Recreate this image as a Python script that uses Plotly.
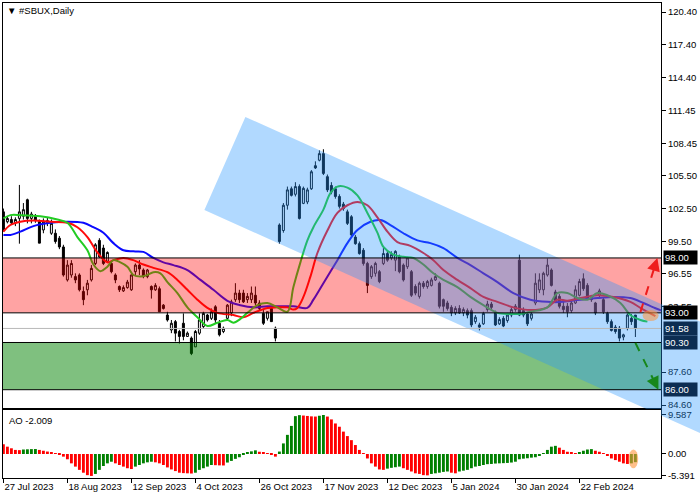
import plotly.graph_objects as go

# ---------------- data ----------------
O = [102.2, 101.3, 101.5, 101.2, 101.6, 101.8, 103.3, 101.6, 101.8, 101.3,
     100.55, 101.2, 100.25, 100.25, 99.8, 99.0, 96.0, 96.45, 96.3, 96.45,
     94.95, 95.1, 96.0, 97.5, 99.6, 98.9, 97.7, 97.5, 96.45, 95.4,
     95.0, 95.3, 95.1, 96.75, 97.35, 96.9, 96.3, 95.4, 95.1, 95.2,
     93.7, 92.8, 91.44, 92.2, 91.3, 92.05, 90.85, 90.7, 89.9, 91.15,
     91.75, 92.8, 92.5, 93.55, 92.05, 91.3, 92.5, 93.0, 94.2, 94.8,
     94.8, 94.2, 94.2, 94.6, 93.9, 92.95, 92.5, 93.4, 91.6, 101.0,
     100.5, 102.8, 104.3, 103.8, 104.5, 102.97, 103.1, 104.3, 106.4, 106.9,
     107.5, 105.4, 104.6, 104.3, 103.6, 102.9, 102.2, 101.75, 99.9, 99.3,
     98.7, 97.5, 96.3, 96.6, 96.75, 97.5, 98.4, 98.0, 97.8, 98.1,
     97.35, 97.2, 96.75, 95.4, 94.5, 95.7, 95.4, 95.5, 96.0, 95.7,
     94.2, 93.9, 93.5, 93.0, 93.4, 93.0, 93.2, 93.2, 92.2, 91.9,
     92.0, 93.3, 93.8, 93.0, 92.0, 92.5, 92.3, 92.8, 93.3, 97.8,
     93.2, 92.9, 92.5, 93.9, 95.1, 95.1, 96.45, 96.9, 94.9, 94.5,
     93.6, 93.6, 93.2, 93.9, 94.6, 96.1, 95.5, 94.4, 93.9, 94.6,
     94.2, 92.95, 92.2, 91.7, 91.6, 90.8, 91.6, 92.5, 92.8]
H = [102.5, 101.8, 101.8, 101.7, 104.65, 103.0, 103.4, 102.2, 102.0, 101.5,
     101.6, 101.7, 101.5, 100.6, 100.0, 99.2, 97.8, 97.8, 96.6, 96.6,
     95.4, 96.0, 97.35, 99.35, 99.8, 99.2, 98.6, 97.65, 96.6, 95.5,
     95.5, 96.0, 96.5, 97.5, 97.8, 97.05, 97.0, 95.5, 95.7, 95.4,
     93.8, 93.1, 92.35, 92.35, 91.45, 92.95, 91.3, 90.85, 91.44, 92.95,
     93.1, 92.9, 93.4, 93.7, 92.35, 91.75, 93.8, 94.2, 95.7, 95.1,
     95.1, 94.8, 95.4, 95.4, 94.15, 93.25, 93.1, 93.55, 91.75, 101.15,
     103.0, 104.5, 104.5, 104.9, 104.7, 104.5, 104.4, 106.0, 106.8, 107.8,
     107.9, 105.6, 104.9, 104.5, 103.8, 103.1, 102.4, 101.9, 100.1, 99.5,
     98.9, 97.65, 97.35, 97.65, 96.9, 98.9, 98.7, 98.6, 98.7, 98.3,
     97.5, 98.1, 96.9, 95.6, 95.85, 95.9, 96.0, 96.2, 96.6, 95.85,
     94.3, 94.1, 93.7, 93.6, 93.7, 93.5, 93.4, 93.4, 92.8, 92.1,
     93.1, 94.1, 94.0, 93.2, 92.6, 92.7, 93.0, 93.5, 93.8, 98.3,
     93.5, 93.1, 93.1, 96.6, 96.6, 96.75, 97.95, 97.05, 95.1, 94.7,
     94.0, 93.9, 94.1, 95.5, 96.1, 96.6, 95.7, 94.5, 94.0, 95.2,
     94.4, 93.1, 92.4, 91.9, 91.8, 91.1, 92.95, 92.9, 92.8]
L = [100.4, 101.15, 101.0, 100.9, 99.3, 101.5, 101.15, 101.15, 101.2, 99.35,
     100.25, 100.9, 100.1, 99.3, 98.8, 96.3, 95.85, 96.2, 95.7, 94.95,
     93.7, 94.6, 95.85, 97.35, 98.0, 97.35, 97.6, 96.6, 95.7, 94.9,
     94.9, 95.2, 95.0, 96.45, 96.45, 96.15, 96.15, 94.3, 95.0, 93.1,
     93.3, 92.2, 91.15, 90.4, 90.2, 90.5, 90.8, 89.15, 89.9, 91.0,
     91.6, 92.2, 92.35, 92.05, 90.85, 91.15, 92.3, 92.7, 94.0, 93.9,
     93.9, 93.9, 93.9, 93.7, 93.25, 91.9, 92.3, 92.2, 90.4, 99.3,
     100.3, 102.4, 103.6, 103.6, 101.5, 102.9, 102.9, 104.2, 106.1, 106.8,
     105.55, 104.0, 103.8, 103.4, 102.5, 102.3, 101.0, 99.9, 99.2, 98.3,
     97.3, 94.8, 96.1, 96.3, 95.7, 97.35, 97.65, 97.8, 96.8, 96.6,
     95.85, 97.0, 94.45, 94.6, 94.3, 95.2, 95.2, 95.4, 95.9, 93.4,
     93.1, 93.2, 92.7, 92.8, 92.9, 92.7, 92.5, 91.7, 92.0, 91.4,
     91.9, 93.1, 93.3, 91.8, 91.9, 91.7, 92.1, 92.6, 93.1, 92.7,
     92.6, 91.8, 92.3, 93.7, 94.8, 94.6, 96.3, 95.4, 93.9, 93.4,
     93.0, 92.6, 93.0, 93.8, 94.5, 95.0, 94.2, 94.0, 92.8, 94.4,
     92.9, 92.0, 91.3, 91.1, 90.4, 90.5, 91.4, 91.9, 90.8]
C = [100.6, 101.6, 101.2, 101.5, 102.2, 102.4, 101.6, 102.0, 101.4, 99.35,
     101.3, 101.4, 101.15, 99.5, 99.0, 96.45, 97.35, 97.5, 96.0, 95.1,
     94.2, 95.7, 97.05, 99.2, 98.1, 97.5, 98.5, 96.75, 96.0, 95.1,
     95.3, 95.8, 96.45, 97.35, 97.0, 96.3, 96.9, 95.1, 95.5, 93.1,
     93.4, 92.35, 92.05, 91.15, 90.85, 90.85, 91.15, 89.3, 91.3, 92.35,
     92.95, 92.35, 93.1, 92.35, 91.0, 91.6, 93.7, 94.0, 94.8, 94.2,
     94.0, 94.5, 94.8, 93.9, 93.4, 92.05, 93.1, 92.2, 90.7, 99.5,
     102.8, 104.2, 103.7, 104.5, 101.6, 104.34, 104.2, 105.85, 106.2, 107.5,
     105.7, 104.2, 104.0, 103.6, 102.7, 102.5, 101.15, 100.1, 99.3, 98.4,
     97.5, 95.5, 97.2, 97.5, 95.85, 98.4, 97.8, 98.3, 98.6, 96.75,
     96.0, 98.0, 94.6, 94.8, 95.7, 95.4, 95.85, 96.0, 96.3, 93.6,
     93.6, 93.4, 93.0, 93.4, 93.0, 93.3, 92.8, 91.9, 92.6, 91.7,
     92.95, 93.8, 93.5, 91.9, 92.4, 91.8, 92.8, 93.3, 93.6, 92.8,
     92.8, 92.0, 92.9, 95.7, 96.0, 96.6, 97.35, 95.5, 94.0, 93.6,
     93.3, 93.1, 93.9, 95.1, 95.85, 95.2, 94.3, 94.2, 93.0, 95.0,
     93.1, 92.2, 91.4, 91.3, 90.7, 91.0, 92.8, 92.2, 91.58]

# Alligator lines (knots at bar positions)
jaw_x = [0, 1.75, 4.25, 7.5, 11.75, 16, 20, 22.5, 25, 27.5, 30, 32.5, 35, 37.5, 40, 42.5, 46, 49.25,
         52.5, 56, 59.25, 62.5, 66, 69.25, 72.5, 76, 77.5, 80, 83.5, 86, 88.5, 91.75, 94.25, 96.75,
         100, 103.5, 106.75, 110, 113.5, 116.75, 120, 123.5, 127.5, 131.75, 136, 140, 144.25, 148.5,
         152.5, 156.75, 160, 162.5, 164.25, 166]
jaw_y = [100.1, 100.1, 100.4, 100.9, 101.2, 101.3, 101.2, 100.8, 100.3, 99.35, 98.7, 98.6, 98.55, 98.0,
         97.6, 97.35, 96.9, 96.0, 95.1, 94.1, 93.7, 93.5, 93.6, 93.6, 93.6, 93.45, 94.2, 95.7, 97.8,
         99.35, 100.55, 101.3, 101.45, 101.0, 100.25, 99.6, 99.35, 98.9, 98.0, 97.35, 96.6, 95.8, 94.8,
         94.2, 94.0, 94.0, 94.2, 94.35, 94.45, 94.35, 93.9, 93.5, 93.25, 93.1]
teeth_x = [0, 1.75, 4.25, 7.5, 11.75, 16, 18.5, 21, 23.5, 26, 27.5, 30, 32.5, 35, 37.5, 41, 43.5, 46,
           48.5, 51, 53.5, 57.5, 60, 62.5, 66, 68.5, 71, 72.5, 73.5, 75, 76.75, 78.5, 81, 83.5, 86,
           88.5, 91, 93.5, 96, 98.5, 101.75, 105, 107.5, 110, 113.5, 116.75, 120, 123.5, 127.5,
           131.75, 136, 138.5, 141, 144.25, 148.5, 152.5, 156.75, 159.25, 161, 163]
teeth_y = [100.4, 101.0, 101.3, 101.4, 101.3, 101.2, 100.8, 99.9, 98.5, 97.6, 97.8, 98.0, 97.8, 97.4,
           97.1, 96.7, 96.0, 95.1, 94.2, 93.45, 93.0, 92.8, 92.6, 93.0, 93.45, 93.5, 93.5, 93.3,
           93.45, 94.45, 96.3, 98.45, 100.5, 102.1, 102.8, 103.1, 102.8, 101.7, 100.4, 99.45, 99.1,
           98.45, 97.8, 96.9, 96.0, 95.25, 94.45, 94.0, 93.5, 93.25, 93.5, 94.2, 94.1, 94.35, 94.6,
           94.45, 94.0, 93.45, 93.1, 92.7]
lips_x = [0, 1.75, 4.25, 9.25, 13.5, 16, 18.5, 21, 22.5, 24.25, 26, 27.5, 29.25, 31, 32.5, 34.25, 36,
          37.5, 39.25, 41, 43.5, 46, 48.5, 51, 53.5, 56, 57.5, 59.25, 61, 63.5, 66, 68.5, 71, 72.5,
          74.25, 76, 77.5, 80, 81.75, 83.5, 86, 88.5, 91, 93.5, 95, 97.5, 100, 102.5, 105, 107.5,
          110, 113.5, 116.75, 120, 123.5, 126.75, 129.25, 131.75, 136, 138.5, 141, 143.5, 146,
          148.5, 151, 154.25, 156.75, 159.25, 161]
lips_y = [101.6, 101.9, 101.9, 101.8, 101.5, 101.2, 99.9, 98.7, 97.4, 96.8, 97.2, 97.8, 97.6, 97.2,
          96.45, 96.3, 96.45, 96.7, 96.6, 95.8, 94.8, 93.5, 92.6, 91.8, 92.1, 92.35, 92.1, 92.45,
          93.0, 93.7, 93.9, 93.5, 93.1, 95.35, 97.6, 99.6, 100.8, 102.4, 103.9, 104.5, 104.4, 103.7,
          102.1, 100.3, 99.0, 98.3, 98.1, 98.0, 97.4, 96.6, 96.0, 95.35, 94.45, 93.7, 93.0, 92.9,
          92.9, 93.1, 93.5, 94.8, 94.8, 94.35, 94.2, 94.8, 94.6, 93.9, 92.8, 92.35, 92.2]

# Awesome Oscillator histogram
AO = [2.4, 1.8, 1.4, 1.0, 0.95, 1.1, 1.15, 1.2, 1.22, 1.0,
      0.8, 0.6, 0.3, 0.05, -0.25, -0.65, -1.3, -2.3, -3.1, -3.9,
      -4.6, -5.2, -5.391, -4.9, -3.9, -2.95, -2.3, -1.9, -2.3, -2.7,
      -3.1, -3.5, -3.7, -3.1, -2.7, -2.3, -2.05, -1.9, -2.05, -2.3,
      -2.7, -3.3, -3.8, -4.2, -4.6, -4.7, -4.75, -4.8, -4.6, -3.9,
      -3.5, -3.1, -2.7, -2.75, -2.8, -2.82, -2.1, -1.7, -1.2, -0.8,
      -0.25, 0.33, 0.65, 0.9, 0.55, 0.4, 0.15, -0.1, -0.65, 0.6,
      2.6, 4.7, 6.9, 9.3, 9.55, 9.45, 9.35, 9.25, 9.2, 9.4,
      9.587, 9.2, 8.5, 7.5, 6.7, 5.5, 4.4, 3.4, 2.2, 1.0,
      0.15, -1.1, -2.3, -3.1, -3.8, -3.9, -3.6, -3.4, -3.25, -3.1,
      -3.5, -3.9, -4.3, -4.75, -4.9, -5.2, -5.25, -4.9, -4.75, -4.6,
      -4.4, -4.3, -4.6, -4.75, -4.3, -4.1, -3.9, -3.5, -3.1, -2.95,
      -2.7, -2.5, -2.45, -2.35, -2.3, -2.25, -2.2, -2.1, -1.9, -1.3,
      -1.15, -1.05, -0.9, -0.8, -0.5, 0.15, 1.0, 1.8, 2.0, 1.55,
      1.0, 0.55, 0.3, 0.15, 0.33, 0.8, 1.1, 1.2, 0.8, 0.55,
      0.15, -0.5, -1.1, -1.5, -1.9, -2.3, -2.45, -2.3, -2.009]

date_ticks = [0, 16, 32, 48, 64, 80, 96, 112, 128, 144]
date_labels = ["27 Jul 2023", "18 Aug 2023", "12 Sep 2023", "4 Oct 2023", "26 Oct 2023",
               "17 Nov 2023", "12 Dec 2023", "5 Jan 2024", "30 Jan 2024", "22 Feb 2024"]
price_ticks = [120.40, 117.40, 114.40, 111.45, 108.45, 105.50, 102.50, 99.50, 96.55, 93.55, 87.60, 84.60]
price_tick_text = ["120.40", "117.40", "114.40", "111.45", "108.45", "105.50", "102.50", "99.50",
                   "96.55", "93.55", "87.60", "84.60"]
ao_ticks = [9.587, 0.0, -5.391]
ao_tick_text = ["9.587", "0.00", "-5.391"]

resistance_zone = [93.00, 98.00]
support_zone = [86.00, 90.30]
bid_price = 91.58
level_labels = [98.00, 93.00, 91.58, 90.30, 86.00]
level_label_colors = ["#000000", "#000000", "#0c2d52", "#0c2d52", "#0c2d52"]

# descending channel: corner points (bar, price) and slope per bar
ch_upper_start = (60.5, 110.84)
ch_lower_start = (50.25, 102.37)
ch_slope = -0.164
ch_end_bar = 200

# forecast arrows: (bar, price) start -> tip
up_arrow = [(159.25, 93.07), (163.5, 98.0)]
down_arrow = [(158.0, 90.26), (163.75, 86.0)]

# ---------------- geometry ----------------
FW, FH = 700, 500
ML, MR, MT, MB = 3, 39, 3, 22
PW = FW - ML - MR
PH = FH - MT - MB
MAIN_BOTTOM_PX = 408
AO_TOP_PX = 410
X0, X1 = -0.1, 164.4
Y0, Y1 = 84.334, 121.22
A0, A1 = -5.90, 10.81
main_dom = [(FH - MB - MAIN_BOTTOM_PX) / PH, 1.0]
ao_dom = [0.0, (FH - MB - AO_TOP_PX) / PH]


def fx(i):
    return ML + (i - X0) / (X1 - X0) * PW


def fy(p):
    return MT + (Y1 - p) / (Y1 - Y0) * (MAIN_BOTTOM_PX - MT)


def paper(px, py):
    return ((px - ML) / PW, (FH - MB - py) / PH)


n = len(C)
assert len(O) == n and len(H) == n and len(L) == n and len(AO) == n
bars = list(range(n))

FONT = "Liberation Sans, Arial, sans-serif"

fig = go.Figure()

fig.add_trace(go.Candlestick(
    x=bars, open=O, high=H, low=L, close=C,
    increasing=dict(line=dict(color="black", width=1), fillcolor="white"),
    decreasing=dict(line=dict(color="black", width=1), fillcolor="black"),
    whiskerwidth=0, xaxis="x", yaxis="y", showlegend=False, hoverinfo="skip"))

for xs, ys, col in [(jaw_x, jaw_y, "#0a0aff"), (teeth_x, teeth_y, "#ff0a0a"), (lips_x, lips_y, "#22cc22")]:
    fig.add_trace(go.Scatter(x=xs, y=ys, mode="lines", xaxis="x", yaxis="y",
                             line=dict(color=col, width=2, shape="spline", smoothing=1.0),
                             showlegend=False, hoverinfo="skip"))

ao_colors = ["#ff0000"] + ["#008000" if AO[k] > AO[k - 1] else "#ff0000" for k in range(1, n)]
fig.add_trace(go.Bar(x=bars, y=AO, marker=dict(color=ao_colors, line=dict(width=0)), width=0.72,
                     xaxis="x2", yaxis="y2", showlegend=False, hoverinfo="skip"))

shapes = []
# zones
shapes.append(dict(type="rect", xref="paper", yref="y", x0=0, x1=1, y0=resistance_zone[0],
                   y1=resistance_zone[1], fillcolor="rgba(255,0,0,0.36)", line=dict(width=0), layer="above"))
shapes.append(dict(type="rect", xref="paper", yref="y", x0=0, x1=1, y0=support_zone[0],
                   y1=support_zone[1], fillcolor="rgba(0,130,0,0.5)", line=dict(width=0), layer="above"))

# channel polygon (pixel space -> paper), clipped out of the AO plot area
def upper(i):
    return ch_upper_start[1] + ch_slope * (i - ch_upper_start[0])


def lower(i):
    return ch_lower_start[1] + ch_slope * (i - ch_lower_start[0])


ul = (fx(ch_upper_start[0]), fy(ch_upper_start[1]))
ur = (fx(ch_end_bar), fy(upper(ch_end_bar)))
lr = (fx(ch_end_bar), fy(lower(ch_end_bar)))
ll = (fx(ch_lower_start[0]), fy(ch_lower_start[1]))
right_px = ML + PW
clip_y = (MAIN_BOTTOM_PX + AO_TOP_PX) / 2.0


def on_lower_at_x(px):
    t = (px - ll[0]) / (lr[0] - ll[0])
    return (px, ll[1] + t * (lr[1] - ll[1]))


def on_lower_at_y(py):
    t = (py - ll[1]) / (lr[1] - ll[1])
    return (ll[0] + t * (lr[0] - ll[0]), py)


pts = [ul, ur, lr]
p1 = on_lower_at_x(right_px)
if p1[1] > clip_y:
    pts += [p1, (right_px, clip_y), on_lower_at_y(clip_y)]
pts.append(ll)
path = "M " + " L ".join("%.5f,%.5f" % paper(*p) for p in pts) + " Z"
shapes.append(dict(type="path", xref="paper", yref="paper", path=path,
                   fillcolor="rgba(40,150,255,0.36)", line=dict(width=0), layer="above"))

# level lines
for lv in [resistance_zone[1], resistance_zone[0], support_zone[1], support_zone[0]]:
    shapes.append(dict(type="line", xref="paper", yref="y", x0=0, x1=1, y0=lv, y1=lv,
                       line=dict(color="black", width=1), layer="above"))
shapes.append(dict(type="line", xref="paper", yref="y", x0=0, x1=1, y0=bid_price, y1=bid_price,
                   line=dict(color="#b8b8b8", width=1), layer="above"))

# highlight blobs
shapes.append(dict(type="circle", xref="x", yref="y", x0=159.8, x1=163.8, y0=92.25, y1=93.25,
                   fillcolor="rgba(255,150,60,0.55)", line=dict(width=0), layer="above"))
shapes.append(dict(type="circle", xref="x2", yref="y2", x0=156.3, x1=158.7, y0=-3.5, y1=1.1,
                   fillcolor="rgba(255,150,60,0.6)", line=dict(width=0), layer="above"))

annotations = []
# forecast arrows
for (s, e), col in [(up_arrow, "#ee1c1c"), (down_arrow, "#17871a")]:
    frac = 0.85
    mx = s[0] + (e[0] - s[0]) * frac
    my = s[1] + (e[1] - s[1]) * frac
    shapes.append(dict(type="line", xref="x", yref="y", x0=s[0], y0=s[1], x1=mx, y1=my,
                       line=dict(color=col, width=2, dash="dash"), layer="above"))
    annotations.append(dict(x=e[0], y=e[1], ax=mx, ay=my, xref="x", yref="y", axref="x", ayref="y",
                            text="", showarrow=True, arrowhead=2, arrowsize=1.3, arrowwidth=2,
                            arrowcolor=col))

# price boxes on the axis
for lv, col in zip(level_labels, level_label_colors):
    annotations.append(dict(x=(663 - ML) / PW, xref="paper", y=lv, yref="y", xanchor="left",
                            yanchor="middle", text="%.2f" % lv, showarrow=False, bgcolor=col,
                            font=dict(color="white", size=9.5, family=FONT), borderpad=1,
                            width=31, align="left"))

# titles
annotations.append(dict(x=paper(5, 0)[0], y=paper(0, 11)[1], xref="paper", yref="paper",
                        xanchor="left", yanchor="middle", text="\u25bc #SBUX,Daily", showarrow=False,
                        font=dict(size=9.5, family=FONT, color="black")))
annotations.append(dict(x=paper(7, 0)[0], y=paper(0, 420)[1], xref="paper", yref="paper",
                        xanchor="left", yanchor="middle", text="AO -2.009", showarrow=False,
                        font=dict(size=9.5, family=FONT, color="black")))

axis_common = dict(showgrid=False, zeroline=False, showline=True, mirror=True, linecolor="black",
                   linewidth=1, fixedrange=True)

fig.update_layout(
    width=FW, height=FH, margin=dict(l=ML, r=MR, t=MT, b=MB),
    paper_bgcolor="white", plot_bgcolor="white", showlegend=False,
    font=dict(family=FONT, size=9.5, color="black"),
    xaxis=dict(domain=[0, 1], range=[X0, X1], anchor="y", showticklabels=False, ticks="",
               rangeslider=dict(visible=False), **axis_common),
    yaxis=dict(domain=main_dom, range=[Y0, Y1], anchor="x", side="right", tickmode="array",
               tickvals=price_ticks, ticktext=price_tick_text, ticks="outside", ticklen=4,
               tickcolor="black", tickfont=dict(size=9.5, family=FONT, color="black"), **axis_common),
    xaxis2=dict(domain=[0, 1], range=[X0, X1], anchor="y2", tickmode="array", tickvals=date_ticks,
                ticktext=date_labels, ticks="outside", ticklen=4, tickcolor="black",
                ticklabelposition="outside right", tickfont=dict(size=9.5, family=FONT, color="black"),
                rangeslider=dict(visible=False), **axis_common),
    yaxis2=dict(domain=ao_dom, range=[A0, A1], anchor="x2", side="right", tickmode="array",
                tickvals=ao_ticks, ticktext=ao_tick_text, ticks="outside", ticklen=4,
                tickcolor="black", tickfont=dict(size=9.5, family=FONT, color="black"), **axis_common),
    shapes=shapes, annotations=annotations,
)

fig.write_html("out.html", config={"displayModeBar": False},
               post_script="document.body.style.margin='0';document.body.style.overflow='hidden';")
